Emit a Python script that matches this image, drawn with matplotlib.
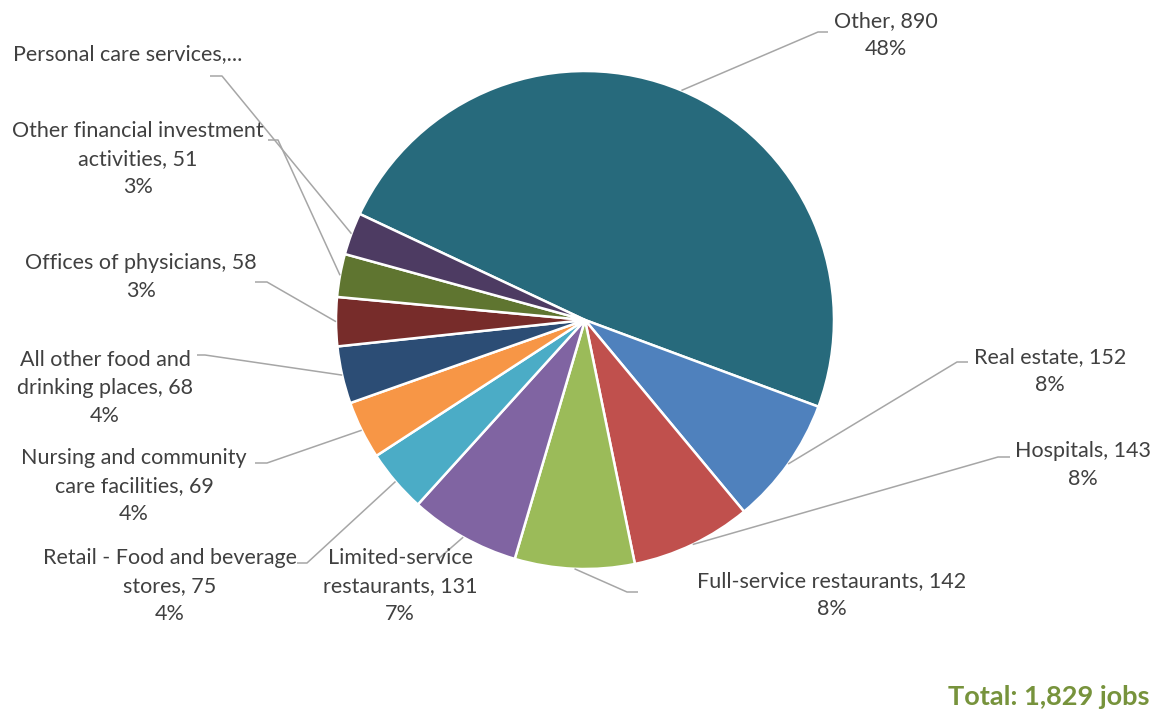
import matplotlib
matplotlib.use("Agg")
import matplotlib.pyplot as plt
import numpy as np

# Jobs by industry
categories = [
    "Other", "Real estate", "Hospitals", "Full-service restaurants",
    "Limited-service restaurants", "Retail - Food and beverage stores",
    "Nursing and community care facilities", "All other food and drinking places",
    "Offices of physicians", "Other financial investment activities",
    "Personal care services",
]
jobs = [890, 152, 143, 142, 131, 75, 69, 68, 58, 51, 50]
colors = ["#276A7C", "#4F81BD", "#C0504D", "#9BBB59", "#8064A2", "#4BACC6",
          "#F79646", "#2C4D75", "#772C2A", "#5F7530", "#4D3B62"]

# Label text (wrapped as displayed) per category
label_text = [
    "Other, 890\n48%",
    "Real estate, 152\n8%",
    "Hospitals, 143\n8%",
    "Full-service restaurants, 142\n8%",
    "Limited-service\nrestaurants, 131\n7%",
    "Retail - Food and beverage\nstores, 75\n4%",
    "Nursing and community\ncare facilities, 69\n4%",
    "All other food and\ndrinking places, 68\n4%",
    "Offices of physicians, 58\n3%",
    "Other financial investment\nactivities, 51\n3%",
    "Personal care services,...",
]

W, H = 1161, 713
fig = plt.figure(figsize=(W / 100, H / 100), dpi=100)
ax = fig.add_axes([0, 0, 1, 1])

cx, cy, R = 585, H - 320, 249
wedges, _ = ax.pie(jobs, colors=colors, startangle=154.8, counterclock=False,
                   center=(cx, cy), radius=R,
                   wedgeprops=dict(edgecolor="white", linewidth=1.8))
ax.set_xlim(0, W)
ax.set_ylim(0, H)
ax.set_aspect("auto")
ax.axis("off")

# Layout: (elbow x, elbow y, tail x, text center x, first-line center y) in pixels
layout = [
    (818, 32, 828, 886, 20),
    (957, 362, 968, 1050, 356),
    (998, 457, 1010, 1083, 450),
    (627, 592, 638, 832, 580),
    (437, 560, 437, 400, 557),
    (307, 563, 297, 170, 557),
    (267, 463, 255, 134, 457),
    (205, 355, 197, 105, 359),
    (267, 282, 255, 141, 262),
    (278, 140, 268, 138, 130),
    (222, 76, 210, 128, 53),
]

line_color = "#A6A6A6"
text_color = "#404040"
for w, txt, (ex, ey, tx, lx, ly) in zip(wedges, label_text, layout):
    mid = np.deg2rad((w.theta1 + w.theta2) / 2)
    sx = cx + R * np.cos(mid)
    sy = cy + R * np.sin(mid)
    ax.plot([sx, ex, tx], [sy, H - ey, H - ey], color=line_color, lw=1.1,
            solid_capstyle="butt", zorder=1)
    ax.text(lx, H - ly + 9, txt, ha="center", va="top", fontsize=15.5,
            family="Lato", color=text_color, linespacing=1.5)

ax.text(1150, H - 697, "Total: 1,829 jobs", ha="right", va="center",
        fontsize=19.5, family="Lato", fontweight="bold", color="#77933C")

fig.savefig("out.png", dpi=100)
